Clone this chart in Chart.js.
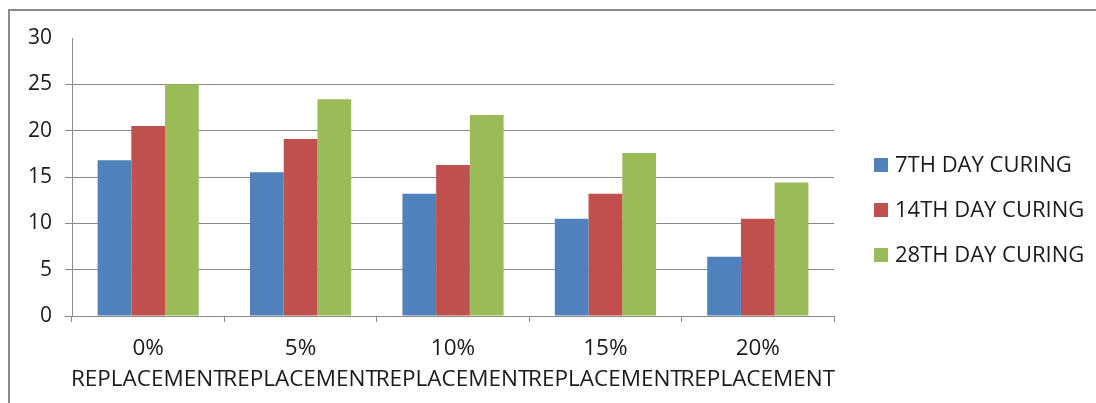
<!DOCTYPE html>
<html>
<head>
<meta charset="utf-8">
<script src="https://cdn.jsdelivr.net/npm/chart.js@4/dist/chart.umd.min.js"></script>
<style>
  body { margin: 0; background: #fff; }
  #frame {
    position: absolute; left: 8px; top: 9px; width: 1200px; height: 500px;
    border-top: 2px solid #8a8a8a; border-left: 2px solid #8a8a8a;
  }
  #wrap { position: absolute; left: 0; top: 0; width: 1096px; height: 403px; }
</style>
</head>
<body>
<div id="frame"></div>
<div id="wrap"><canvas id="myChart" width="1096" height="403"></canvas></div>
<script>
'use strict';

let categories = ['0%', '5%', '10%', '15%', '20%'];
let subLabel = 'REPLACEMENT';
let seriesNames = ['7TH DAY CURING', '14TH DAY CURING', '28TH DAY CURING'];
let day7 = [16.8, 15.5, 13.2, 10.5, 6.4];
let day14 = [20.5, 19.1, 16.3, 13.2, 10.5];
let day28 = [25.0, 23.4, 21.7, 17.6, 14.4];
let yTicks = [0, 5, 10, 15, 20, 25, 30];

let colors = ['#4F81BD', '#C0504D', '#9BBB59'];
let fontFace = '"Open Sans", sans-serif';

// legend drawn on the right, one row per dataset
let sideLegend = {
    id: 'sideLegend',
    afterDraw(chart) {
        let ctx = chart.ctx;
        ctx.save();
        ctx.font = '22px ' + fontFace;
        ctx.textBaseline = 'middle';
        chart.data.datasets.forEach(function (ds, i) {
            let y = 165 + i * 45;
            ctx.fillStyle = ds.backgroundColor;
            ctx.fillRect(874, y - 7, 14, 14);
            ctx.fillStyle = '#1a1a1a';
            ctx.fillText(ds.label, 895, y + 1);
        });
        ctx.restore();
    }
};

let ctx = document.getElementById('myChart').getContext('2d');

let chart = new Chart(ctx, {
    type: 'bar',
    data: {
        labels: categories.map(c => [c, subLabel]),
        datasets: [
            { label: seriesNames[0], backgroundColor: colors[0], data: day7 },
            { label: seriesNames[1], backgroundColor: colors[1], data: day14 },
            { label: seriesNames[2], backgroundColor: colors[2], data: day28 }
        ]
    },
    options: {
        responsive: false,
        animation: false,
        layout: { padding: { left: 0, right: 262, top: 38, bottom: 0 } },
        datasets: { bar: { barPercentage: 1, categoryPercentage: 0.664 } },
        plugins: {
            legend: { display: false },
            tooltip: { enabled: false }
        },
        scales: {
            x: {
                grid: {
                    offset: true,
                    drawOnChartArea: false,
                    drawTicks: true,
                    tickLength: 6,
                    color: '#8a8a8a'
                },
                border: { color: '#8a8a8a' },
                ticks: {
                    color: '#1a1a1a',
                    font: { family: fontFace, size: 22.5, lineHeight: 1.38 },
                    padding: 11,
                    maxRotation: 0,
                    autoSkip: false
                },
                afterFit(scale) { scale.height = 87; }
            },
            y: {
                min: 0,
                max: 30,
                afterBuildTicks(scale) { scale.ticks = yTicks.map(v => ({ value: v })); },
                grid: {
                    color: c => (c.tick && c.tick.value === 30) ? 'rgba(0,0,0,0)' : '#8a8a8a',
                    tickLength: 7
                },
                border: { color: '#8a8a8a' },
                ticks: {
                    color: '#1a1a1a',
                    font: { family: fontFace, size: 21 },
                    padding: 13
                },
                afterFit(scale) { scale.width = 72; }
            }
        }
    },
    plugins: [sideLegend]
});
</script>
</body>
</html>
